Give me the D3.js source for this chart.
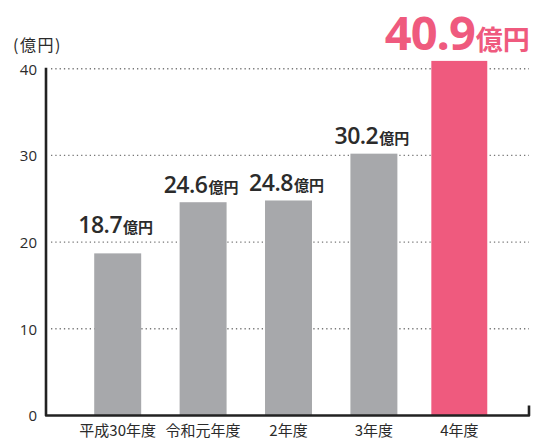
<!DOCTYPE html>
<html>
<head>
<meta charset="utf-8">
<script src="https://cdn.jsdelivr.net/npm/d3@7"></script>
<style>
  html, body { margin: 0; padding: 0; background: #fff; }
  svg { display: block; }
</style>
</head>
<body>
<div id="chart"></div>
<script>
// data
const categories = ['平成30年度', '令和元年度', '2年度', '3年度', '4年度'];
const values = [18.7, 24.6, 24.8, 30.2, 40.9];
const yTicks = [0, 10, 20, 30, 40];
const unitLabel = '(億円)';
const valueUnit = '億円';

const W = 546, H = 440;
const gray = '#a7a8ab', pink = '#ef5a7e', ink = '#2b2b2b';
const cjk = '"Noto Sans CJK JP", "Noto Sans", sans-serif';
const num = '"Open Sans", "Noto Sans", sans-serif';

const svg = d3.select('#chart').append('svg')
  .attr('width', W).attr('height', H);

const x = d3.scaleBand().domain(categories).range([75, 502]);
const y = d3.scaleLinear().domain([0, 40]).range([415.5, 68.7]);
const axisLeftX = 46, axisRightX = 529;

// gridlines
svg.append('g')
  .selectAll('line')
  .data(yTicks.filter(t => t > 0))
  .join('line')
  .attr('x1', 51).attr('x2', axisRightX)
  .attr('y1', d => y(d)).attr('y2', d => y(d))
  .attr('stroke', '#777').attr('stroke-width', 1.4)
  .attr('stroke-dasharray', '1.3,3');

// tick labels
const yAxis = d3.axisLeft(y).tickValues(yTicks).tickSize(0).tickPadding(0);
const gy = svg.append('g').attr('transform', `translate(37,0)`).call(yAxis);
gy.select('.domain').remove();
gy.selectAll('text')
  .attr('font-family', num).attr('font-size', 15).attr('fill', ink)
  .attr('dy', '0.36em');

svg.append('text')
  .attr('x', 13).attr('y', 51)
  .attr('font-family', cjk).attr('font-size', 16).attr('fill', ink)
  .attr('letter-spacing', 1.5)
  .text(unitLabel);

// bars
const last = categories.length - 1;
const bw = (i) => x.bandwidth() * (i === last ? 0.655 : 0.55);
svg.append('g')
  .selectAll('rect')
  .data(values)
  .join('rect')
  .attr('x', (d, i) => x(categories[i]) + x.bandwidth() / 2 - bw(i) / 2)
  .attr('width', (d, i) => bw(i))
  .attr('y', d => y(d))
  .attr('height', d => y(0) - y(d))
  .attr('fill', (d, i) => i === last ? pink : gray);

// axis frame
svg.append('path')
  .attr('d', d3.line()([[axisLeftX, y(40) - 1], [axisLeftX, y(0)], [axisRightX, y(0)], [axisRightX, y(0) - 10]]))
  .attr('fill', 'none').attr('stroke', '#222').attr('stroke-width', 2.6)
  .attr('stroke-linejoin', 'round');

// value labels
const labels = svg.append('g')
  .selectAll('text')
  .data(values)
  .join('text')
  .attr('x', (d, i) => x(categories[i]) + x.bandwidth() / 2 - 2)
  .attr('y', (d, i) => y(Math.max(d, 20)) - (i === last ? 11 : 9.5))
  .attr('text-anchor', 'middle')
  .attr('fill', (d, i) => i === last ? pink : ink);
labels.append('tspan')
  .attr('font-family', num).attr('font-weight', (d, i) => i === last ? 700 : 600)
  .attr('font-size', (d, i) => i === last ? 47 : 23)
  .attr('letter-spacing', (d, i) => i === last ? -1 : -0.5)
  .text(d => d.toFixed(1));
labels.append('tspan')
  .attr('font-family', cjk).attr('font-weight', 700)
  .attr('font-size', (d, i) => i === last ? 27 : 15)
  .attr('dx', 1)
  .text(valueUnit);

// category labels
svg.append('g')
  .selectAll('text')
  .data(categories)
  .join('text')
  .attr('x', d => x(d) + x.bandwidth() / 2)
  .attr('y', 436)
  .attr('text-anchor', 'middle')
  .attr('font-family', cjk).attr('font-size', 15).attr('fill', ink)
  .text(d => d);
</script>
</body>
</html>
